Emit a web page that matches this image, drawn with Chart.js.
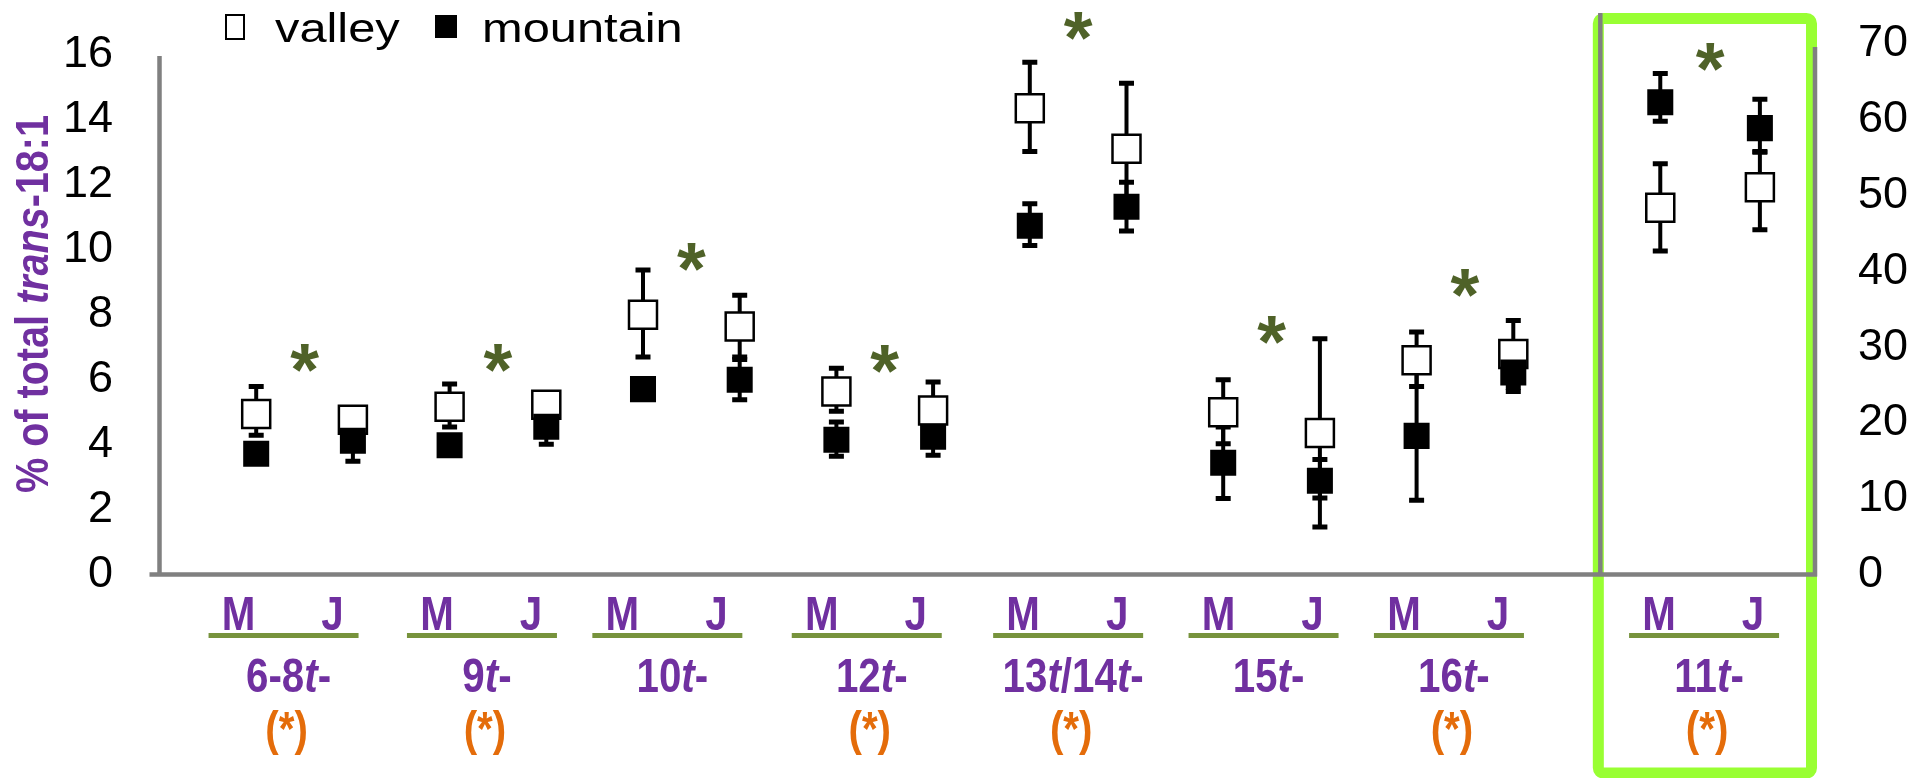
<!DOCTYPE html>
<html>
<head>
<meta charset="utf-8">
<script src="https://cdn.jsdelivr.net/npm/chart.js@4.4.1/dist/chart.umd.min.js"></script>
<style>
  html, body { margin: 0; padding: 0; background: #fff; }
  #wrap { width: 1917px; height: 778px; position: relative; }
</style>
</head>
<body>
<div id="wrap"><canvas id="transChart"></canvas></div>
<script>
// isomer groups, each sampled in M and J
var groups = ['6-8t-', '9t-', '10t-', '12t-', '13t/14t-', '15t-', '16t-', '11t-'];
var months = ['M', 'J'];
var groupMarked = [true, true, false, true, true, false, true, true]; // orange (*)

// x position of each point (M, J, M, J ...)
var pointX = [1, 2, 3, 4, 5, 6, 7, 8, 9, 10, 11, 12, 13, 14];
var point11X = [15.52, 16.55];

// left axis: % of total trans-18:1
var valleyMean = [4.94, 4.77, 5.17, 5.23, 8.0, 7.64, 5.64, 5.05, 14.36, 13.11, 5.0, 4.36, 6.6, 6.79];
var valleyLow = [4.29, 4.5, 4.54, 4.95, 6.7, 6.7, 5.03, 4.17, 13.03, 11.09, 4.03, 1.46, 5.79, 5.76];
var valleyHigh = [5.79, 5.0, 5.87, 5.5, 9.38, 8.6, 6.35, 5.93, 15.78, 15.13, 6.0, 7.26, 7.47, 7.82];

var mountainMean = [3.72, 4.12, 3.98, 4.55, 5.71, 6.0, 4.15, 4.24, 10.74, 11.33, 3.44, 2.89, 4.27, 6.22];
var mountainLow = [3.5, 3.49, 3.75, 4.01, 5.42, 5.38, 3.64, 3.67, 10.13, 10.58, 2.34, 2.36, 2.29, 5.64];
var mountainHigh = [3.95, 4.75, 4.2, 5.09, 6.0, 6.62, 4.7, 4.81, 11.42, 12.08, 4.54, 3.54, 6.25, 6.8];

// right axis: 11t-
var valley11Mean = [48.4, 51.1];
var valley11Low = [42.7, 45.5];
var valley11High = [54.2, 55.8];
var mountain11Mean = [62.3, 58.9];
var mountain11Low = [59.8, 55.7];
var mountain11High = [66.1, 62.7];

// green significance stars (height in left axis units)
var sigY = [6.8, 6.8, 9.9, 6.77, 17.0, 7.64, 9.1, 16.07];

var leftTicks = [0, 2, 4, 6, 8, 10, 12, 14, 16];
var rightTicks = [0, 10, 20, 30, 40, 50, 60, 70];

// label shifts (px) of the group captions
var labelShift = [-21, -16, -24, -18, -10, -8, -16, -6];

var PURPLE = '#7030A0';
var ORANGE = '#E46C0A';
var FONT = '"Liberation Sans", Arial, sans-serif';

function pts(xs, ys) {
    return xs.map(function (x, i) { return { x: x, y: ys[i] }; });
}

function groupMid(g) {
    if (g < 7) return (pointX[2 * g] + pointX[2 * g + 1]) / 2;
    return (point11X[0] + point11X[1]) / 2;
}

// text where every "t" is italic
function drawMixed(ctx, text, cx, base, size, sx) {
    var parts = text.split(/(t)/).filter(function (p) { return p.length; });
    var fonts = parts.map(function (p) {
        return (p === 't' ? 'italic bold ' : 'bold ') + size + 'px ' + FONT;
    });
    var total = 0;
    parts.forEach(function (p, i) { ctx.font = fonts[i]; total += ctx.measureText(p).width; });
    ctx.save();
    ctx.translate(cx, base);
    ctx.scale(sx, 1);
    ctx.textAlign = 'left';
    ctx.textBaseline = 'alphabetic';
    var x = -total / 2;
    parts.forEach(function (p, i) {
        ctx.font = fonts[i];
        ctx.fillText(p, x, 0);
        x += ctx.measureText(p).width;
    });
    ctx.restore();
}

function drawBars(ctx, xs, low, high, xs_, ys_) {
    ctx.strokeStyle = '#000';
    for (var i = 0; i < xs.length; i++) {
        var px = xs_.getPixelForValue(xs[i]);
        var yl = ys_.getPixelForValue(low[i]);
        var yh = ys_.getPixelForValue(high[i]);
        ctx.lineWidth = 4;
        ctx.beginPath();
        ctx.moveTo(px, yh);
        ctx.lineTo(px, yl);
        ctx.stroke();
        ctx.lineWidth = 5;
        ctx.beginPath();
        ctx.moveTo(px - 7.5, yh); ctx.lineTo(px + 7.5, yh);
        ctx.moveTo(px - 7.5, yl); ctx.lineTo(px + 7.5, yl);
        ctx.stroke();
    }
}

var decor = {
    id: 'decor',
    beforeDatasetsDraw: function (chart) {
        var ctx = chart.ctx, a = chart.chartArea;
        var x = chart.scales.x, y = chart.scales.y, y2 = chart.scales.y2;
        ctx.save();

        // green frame round 11t-
        var divider = x.getPixelForValue(14.9);
        ctx.strokeStyle = '#99FF33';
        ctx.lineWidth = 11;
        ctx.beginPath();
        ctx.roundRect(divider - 2, 18.5, a.right - 3.5 - (divider - 2), 773 - 18.5, 5);
        ctx.stroke();

        // axis lines
        ctx.strokeStyle = '#808080';
        ctx.lineWidth = 4.5;
        ctx.beginPath();
        ctx.moveTo(a.left, y.getPixelForValue(16) + 1);
        ctx.lineTo(a.left, a.bottom + 2);
        ctx.moveTo(divider, 13);
        ctx.lineTo(divider, a.bottom);
        ctx.moveTo(a.right, y2.getPixelForValue(70) + 3);
        ctx.lineTo(a.right, a.bottom + 2);
        ctx.moveTo(a.left - 10, a.bottom);
        ctx.lineTo(a.right + 2, a.bottom);
        ctx.stroke();

        // error bars
        drawBars(ctx, pointX, valleyLow, valleyHigh, x, y);
        drawBars(ctx, pointX, mountainLow, mountainHigh, x, y);
        drawBars(ctx, point11X, valley11Low, valley11High, x, y2);
        drawBars(ctx, point11X, mountain11Low, mountain11High, x, y2);
        ctx.restore();
    },
    afterDatasetsDraw: function (chart) {
        var ctx = chart.ctx, a = chart.chartArea;
        var x = chart.scales.x, y = chart.scales.y;
        ctx.save();

        // green stars
        ctx.fillStyle = '#4F6228';
        ctx.font = 'bold 74px ' + FONT;
        ctx.textAlign = 'center';
        ctx.textBaseline = 'alphabetic';
        sigY.forEach(function (v, g) {
            ctx.fillText('*', x.getPixelForValue(groupMid(g)), y.getPixelForValue(v) + 0.553 * 74);
        });

        // category labels under the axis
        groups.forEach(function (name, g) {
            var cx = x.getPixelForValue(groupMid(g)) + labelShift[g];
            ctx.fillStyle = PURPLE;
            drawMixed(ctx, months[0], cx - 45, 630, 48, 0.84);
            drawMixed(ctx, months[1], cx + 49, 630, 48, 0.84);
            ctx.fillStyle = '#77933C';
            ctx.fillRect(cx - 75, 633, 150, 5);
            ctx.fillStyle = PURPLE;
            drawMixed(ctx, name, cx + 5, 692, 48, 0.84);
            if (groupMarked[g]) {
                ctx.save();
                ctx.fillStyle = ORANGE;
                ctx.font = 'bold 48px ' + FONT;
                ctx.translate(cx + 3, 745);
                ctx.scale(0.84, 1);
                ctx.textAlign = 'center';
                ctx.fillText('(*)', 0, 0);
                ctx.restore();
            }
        });

        // y axis title
        ctx.save();
        ctx.translate(48, 304);
        ctx.rotate(-Math.PI / 2);
        ctx.fillStyle = PURPLE;
        var segs = [['% of total ', 'bold '], ['trans', 'italic bold '], ['-18:1', 'bold ']];
        var tw = 0;
        segs.forEach(function (s) { ctx.font = s[1] + '46px ' + FONT; tw += ctx.measureText(s[0]).width; });
        ctx.scale(0.86, 1);
        var tx = -tw / 2;
        ctx.textAlign = 'left';
        segs.forEach(function (s) {
            ctx.font = s[1] + '46px ' + FONT;
            ctx.fillText(s[0], tx, 0);
            tx += ctx.measureText(s[0]).width;
        });
        ctx.restore();

        // legend
        ctx.strokeStyle = '#000';
        ctx.fillStyle = '#000';
        ctx.lineWidth = 2;
        ctx.strokeRect(226, 15, 18, 24);
        ctx.fillRect(435, 15, 22, 23);
        ctx.font = '41px ' + FONT;
        ctx.textAlign = 'left';
        ctx.save();
        ctx.translate(275, 42);
        ctx.scale(1.19, 1);
        ctx.fillText('valley', 0, 0);
        ctx.restore();
        ctx.save();
        ctx.translate(482, 42);
        ctx.scale(1.19, 1);
        ctx.fillText('mountain', 0, 0);
        ctx.restore();

        ctx.restore();
    }
};

var valleyStyle = {
    showLine: false,
    pointStyle: 'rect',
    pointRadius: 19.8,
    pointHoverRadius: 19.8,
    pointBackgroundColor: '#fff',
    pointBorderColor: '#000',
    pointBorderWidth: 2.5,
    order: 2
};
var mountainStyle = {
    showLine: false,
    pointStyle: 'rect',
    pointRadius: 18.4,
    pointHoverRadius: 18.4,
    pointBackgroundColor: '#000',
    pointBorderColor: '#000',
    pointBorderWidth: 0,
    order: 1
};

var ctx = document.getElementById('transChart').getContext('2d');
var myChart = new Chart(ctx, {
    type: 'scatter',
    data: {
        datasets: [
            Object.assign({ label: 'valley', data: pts(pointX, valleyMean), yAxisID: 'y' }, valleyStyle),
            Object.assign({ label: 'mountain', data: pts(pointX, mountainMean), yAxisID: 'y' }, mountainStyle),
            Object.assign({ label: 'valley 11t', data: pts(point11X, valley11Mean), yAxisID: 'y2' }, valleyStyle),
            Object.assign({ label: 'mountain 11t', data: pts(point11X, mountain11Mean), yAxisID: 'y2' }, mountainStyle)
        ]
    },
    options: {
        responsive: true,
        maintainAspectRatio: false,
        animation: false,
        events: [],
        layout: { padding: { top: 44, bottom: 203.5, left: 0, right: 0 } },
        plugins: { legend: { display: false }, tooltip: { enabled: false } },
        scales: {
            x: { type: 'linear', display: false, min: 0, max: 17.12 },
            y: {
                position: 'left',
                min: 0,
                max: 16.34,
                afterBuildTicks: function (s) { s.ticks = leftTicks.map(function (v) { return { value: v }; }); },
                afterFit: function (s) { s.width = 159.5; },
                // tick marks are hidden, their length only sets the label gap
                grid: { display: false, drawTicks: true, tickLength: 46.5 },
                border: { display: false },
                ticks: { autoSkip: false, padding: 0, color: '#000', font: { family: FONT, size: 45 } }
            },
            y2: {
                position: 'right',
                min: 0,
                max: 70,
                afterBuildTicks: function (s) { s.ticks = rightTicks.map(function (v) { return { value: v }; }); },
                afterFit: function (s) { s.width = 102; },
                grid: { display: false, drawTicks: true, tickLength: 43 },
                border: { display: false },
                ticks: { autoSkip: false, padding: 0, color: '#000', font: { family: FONT, size: 45 } }
            }
        }
    },
    plugins: [decor]
});
</script>
</body>
</html>
